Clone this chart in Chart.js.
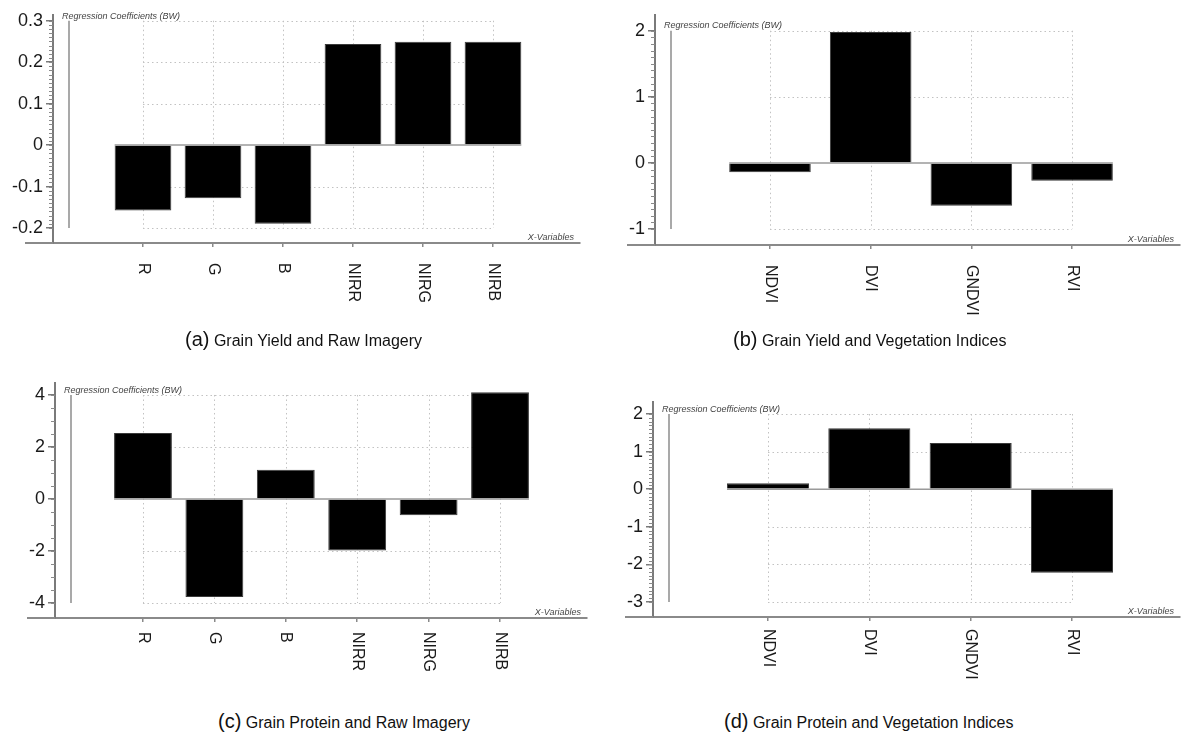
<!DOCTYPE html>
<html>
<head>
<meta charset="utf-8">
<script src="https://cdn.jsdelivr.net/npm/chart.js@4/dist/chart.umd.min.js"></script>
<style>
  body { margin: 0; background: #fff; }
  #page { position: relative; width: 1184px; height: 733px; overflow: hidden; font-family: "Liberation Sans", Arial, sans-serif; }
  canvas { position: absolute; }
  .cap { position: absolute; font-size: 16px; line-height: 22px; color: #111; white-space: nowrap; }
  .cap span { font-size: 20px; }
</style>
</head>
<body>
<div id="page">
  <canvas id="chartA" width="592" height="330" style="left:0;top:0"></canvas>
  <canvas id="chartB" width="592" height="330" style="left:592px;top:0"></canvas>
  <canvas id="chartC" width="592" height="350" style="left:0;top:360px"></canvas>
  <canvas id="chartD" width="592" height="350" style="left:592px;top:360px"></canvas>
  <div class="cap" style="left:185px;top:328px"><span>(a)</span> Grain Yield and Raw Imagery</div>
  <div class="cap" style="left:733px;top:328px"><span>(b)</span> Grain Yield and Vegetation Indices</div>
  <div class="cap" style="left:218px;top:710px"><span>(c)</span> Grain Protein and Raw Imagery</div>
  <div class="cap" style="left:724px;top:710px"><span>(d)</span> Grain Protein and Vegetation Indices</div>
</div>
<script>
// categories
const rawBands = ['R', 'G', 'B', 'NIRR', 'NIRG', 'NIRB'];
const vegIndices = ['NDVI', 'DVI', 'GNDVI', 'RVI'];

// regression coefficients (BW)
const yieldRaw = [-0.158, -0.128, -0.19, 0.244, 0.249, 0.249];
const yieldVeg = [-0.14, 1.98, -0.65, -0.27];
const proteinRaw = [2.54, -3.77, 1.12, -1.98, -0.63, 4.1];
const proteinVeg = [0.16, 1.62, 1.23, -2.22];

// y tick labels
const ticksA = [-0.2, -0.1, 0, 0.1, 0.2, 0.3];
const ticksB = [-1, 0, 1, 2];
const ticksC = [-4, -2, 0, 2, 4];
const ticksD = [-3, -2, -1, 0, 1, 2];

Chart.defaults.font.family = '"Liberation Sans", Arial, sans-serif';
Chart.defaults.color = '#1a1a1a';

function line(ctx, x1, y1, x2, y2) {
    ctx.beginPath();
    ctx.moveTo(x1, y1);
    ctx.lineTo(x2, y2);
    ctx.stroke();
}

// grid box, zero line, side bar, labels - all placed off the chart's own scales
const decor = {
    id: 'decor',
    beforeDatasetsDraw(chart, args, o) {
        const { ctx, chartArea: a, scales: { x, y } } = chart;
        const n = o.labels.length;
        const x1 = x.getPixelForValue(1), x2 = x.getPixelForValue(n);
        const yTop = y.getPixelForValue(o.ticks[o.ticks.length - 1]);
        const yBot = y.getPixelForValue(o.ticks[0]);
        ctx.save();
        ctx.strokeStyle = '#c2c2c2';
        ctx.lineWidth = 1;
        ctx.setLineDash([1.5, 3]);
        for (let i = 1; i <= n; i++) {
            const px = Math.round(x.getPixelForValue(i)) + 0.5;
            line(ctx, px, yTop, px, yBot);
        }
        o.ticks.forEach(t => {
            if (t === 0) return;
            const py = Math.round(y.getPixelForValue(t)) + 0.5;
            line(ctx, x1, py, x2, py);
        });
        ctx.setLineDash([]);

        // zero line from first bar to last bar
        const bars = chart.getDatasetMeta(0).data;
        const zl = bars[0].x - bars[0].width / 2;
        const zr = bars[n - 1].x + bars[n - 1].width / 2;
        const zy = y.getPixelForValue(0);
        ctx.strokeStyle = '#9a9a9a';
        ctx.lineWidth = 1.5;
        line(ctx, zl, zy, zr, zy);

        // x axis runs a little past the y axis
        ctx.strokeStyle = '#8a8a8a';
        ctx.lineWidth = 2;
        line(ctx, a.left - 28, a.bottom, a.left, a.bottom);

        // grey bar beside the y axis
        ctx.strokeStyle = '#8c8c8c';
        ctx.lineWidth = 1.5;
        line(ctx, a.left + 16, yTop, a.left + 16, yBot);

        // minor ticks
        ctx.strokeStyle = '#8a8a8a';
        ctx.lineWidth = 1;
        const lo = o.ticks[0], hi = o.ticks[o.ticks.length - 1];
        const steps = Math.round((hi - lo) / o.minor);
        for (let i = 0; i <= steps; i++) {
            const py = Math.round(y.getPixelForValue(lo + i * o.minor)) + 0.5;
            line(ctx, a.left - 4, py, a.left, py);
        }

        // small italic axis names
        ctx.fillStyle = '#444';
        ctx.font = 'italic 9px "Liberation Sans", Arial, sans-serif';
        ctx.textBaseline = 'middle';
        ctx.textAlign = 'left';
        ctx.fillText('Regression Coefficients (BW)', a.left + 9, a.top + o.titleDy);
        ctx.textAlign = 'right';
        ctx.textBaseline = 'alphabetic';
        ctx.fillText('X-Variables', a.right - 6, a.bottom - 3);
        ctx.restore();
    },
    afterDraw(chart, args, o) {
        const { ctx, chartArea: a, scales: { x } } = chart;
        ctx.save();
        ctx.fillStyle = '#1a1a1a';
        ctx.font = '16px "Liberation Sans", Arial, sans-serif';
        ctx.textAlign = 'left';
        ctx.textBaseline = 'middle';
        o.labels.forEach((lab, i) => {
            ctx.save();
            ctx.translate(x.getPixelForValue(i + 1), a.bottom + o.labelGap);
            ctx.rotate(Math.PI / 2);
            ctx.fillText(lab, 0, 0);
            ctx.restore();
        });
        ctx.restore();
    }
};

function coefChart(id, labels, values, yTicks, box) {
    return new Chart(document.getElementById(id), {
        type: 'bar',
        data: {
            datasets: [{
                data: values.map((v, i) => ({ x: i + 1, y: v })),
                backgroundColor: '#000',
                borderColor: '#3a3a3a',
                borderWidth: 1,
                barPercentage: 0.81,
                categoryPercentage: 1
            }]
        },
        options: {
            responsive: false,
            animation: false,
            layout: { padding: box.pad },
            plugins: {
                legend: { display: false },
                tooltip: { enabled: false },
                decor: { labels: labels, ticks: yTicks, minor: box.minor, labelGap: box.labelGap, titleDy: box.titleDy }
            },
            scales: {
                x: {
                    type: 'linear',
                    offset: false,
                    min: box.x[0],
                    max: box.x[1],
                    afterBuildTicks: s => { s.ticks = labels.map((l, i) => ({ value: i + 1 })); },
                    afterFit: s => { s.height = 60; },
                    ticks: { display: false },
                    grid: { offset: false, drawOnChartArea: false, drawTicks: true, tickLength: 4, color: '#8a8a8a', lineWidth: 1.5 },
                    border: { display: true, color: '#8a8a8a', width: 2 }
                },
                y: {
                    min: box.y[0],
                    max: box.y[1],
                    afterBuildTicks: s => { s.ticks = yTicks.map(v => ({ value: v })); },
                    afterFit: s => { s.width = box.yWidth; },
                    ticks: { font: { size: 18 }, padding: 3, callback: v => String(v) },
                    grid: { drawOnChartArea: false, drawTicks: true, tickLength: 7, color: '#7a7a7a', lineWidth: 1.5 },
                    border: { display: true, color: '#7a7a7a', width: 2 }
                }
            }
        },
        plugins: [decor]
    });
}

coefChart('chartA', rawBands, yieldRaw, ticksA, {
    pad: { left: 5, top: 15, right: 12, bottom: 27 }, yWidth: 48,
    x: [-0.2857, 7.243], y: [-0.2362, 0.3138], minor: 0.01, labelGap: 20, titleDy: 1
});
coefChart('chartB', vegIndices, yieldVeg, ticksB, {
    pad: { left: 5, top: 15, right: 4, bottom: 25 }, yWidth: 58,
    x: [-0.142, 5.072], y: [-1.242, 2.238], minor: 0.1, labelGap: 20, titleDy: 10
});
coefChart('chartC', rawBands, proteinRaw, ticksC, {
    pad: { left: 5, top: 23, right: 5, bottom: 32 }, yWidth: 50,
    x: [-0.232, 7.218], y: [-4.58, 4.46], minor: 0.5, labelGap: 14, titleDy: 7
});
coefChart('chartD', vegIndices, proteinVeg, ticksD, {
    pad: { left: 5, top: 42, right: 4, bottom: 33 }, yWidth: 56,
    x: [-0.135, 5.066], y: [-3.40, 2.32], minor: 0.1, labelGap: 12, titleDy: 7
});
</script>
</body>
</html>
